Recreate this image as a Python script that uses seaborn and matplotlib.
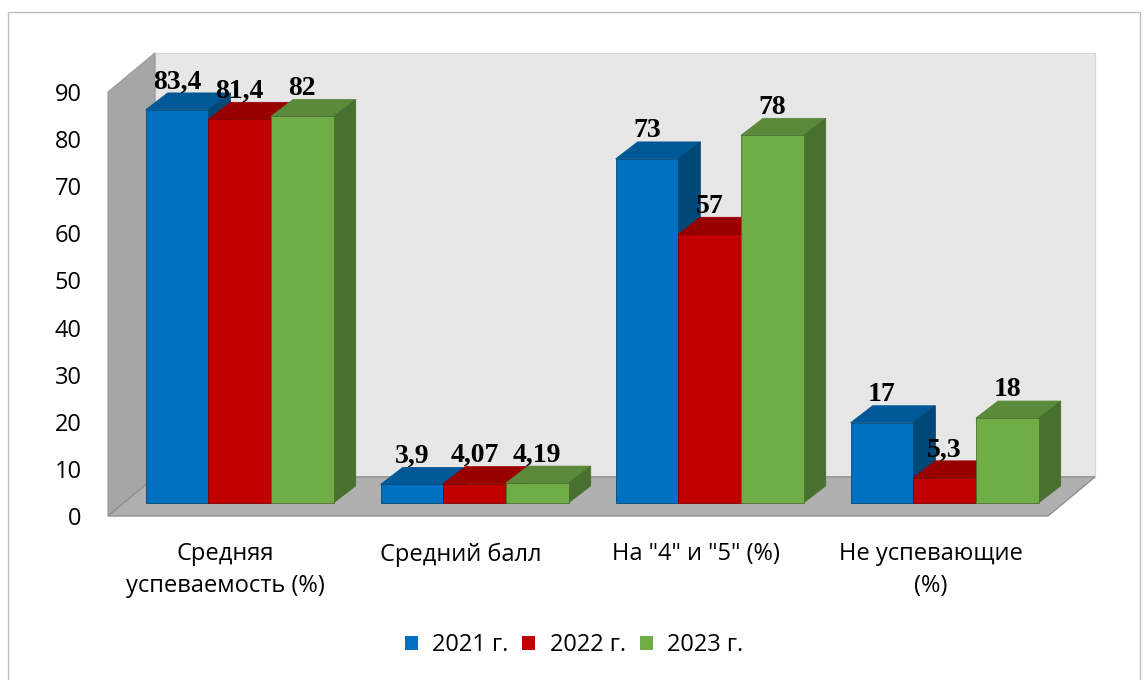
import pandas as pd
import matplotlib
matplotlib.use('Agg')
import matplotlib.pyplot as plt
import matplotlib.transforms as mtransforms
from matplotlib.patches import Polygon, Rectangle
import seaborn as sns

# Данные
categories = ['Средняя\nуспеваемость (%)', 'Средний балл', 'На "4" и "5" (%)', 'Не успевающие\n(%)']
years = ['2021 г.', '2022 г.', '2023 г.']
values_2021 = [83.4, 3.9, 73, 17]
values_2022 = [81.4, 4.07, 57, 5.3]
values_2023 = [82, 4.19, 78, 18]

front_colors = ['#0070c0', '#c00000', '#70ad47']
top_colors = ['#005896', '#990000', '#5a8a3a']
side_colors = ['#004878', '#800000', '#4a7030']

df = pd.DataFrame({
    'Категория': categories * 3,
    'Год': [y for y in years for _ in categories],
    'Значение': values_2021 + values_2022 + values_2023,
})

sns.set_style('white')
plt.rcParams['font.family'] = ['Open Sans', 'DejaVu Sans']
plt.rcParams['text.color'] = 'black'
plt.rcParams['xtick.color'] = 'black'
plt.rcParams['ytick.color'] = 'black'

fig = plt.figure(figsize=(11.48, 6.8), dpi=100)
ax = fig.add_axes([108 / 1148, 164 / 680, 940 / 1148, 424 / 680])

sns.barplot(data=df, x='Категория', y='Значение', hue='Год', palette=front_colors,
            width=0.8, saturation=1, legend=False, ax=ax)

ax.set_xlim(-0.5, 3.5)
ax.set_ylim(0, 90)

# 3D-глубина в единицах данных
wall_dx, wall_dy = 0.2, 8.3      # полная глубина пола/стенки
bar_ox, bar_oy = 0.06, 2.8       # сдвиг передней грани столбиков
bar_dx, bar_dy = 0.094, 3.6      # глубина столбика

# стены и пол
ax.add_patch(Polygon([(-0.5, 0), (-0.5, 90), (-0.5 + wall_dx, 90 + wall_dy), (-0.5 + wall_dx, wall_dy)],
                     closed=True, fc='#a6a6a6', ec='#9a9a9a', lw=0.8, clip_on=False, zorder=0.6))
ax.add_patch(Polygon([(-0.5 + wall_dx, wall_dy), (-0.5 + wall_dx, 90 + wall_dy),
                      (3.5 + wall_dx, 90 + wall_dy), (3.5 + wall_dx, wall_dy)],
                     closed=True, fc='#e7e7e7', ec='#d5d5d5', lw=0.8, clip_on=False, zorder=0.5))
ax.add_patch(Polygon([(-0.5, 0), (3.5, 0), (3.5 + wall_dx, wall_dy), (-0.5 + wall_dx, wall_dy)],
                     closed=True, fc='#b0b0b0', ec='#8f8f8f', lw=1.0, clip_on=False, zorder=0.7))

shift = mtransforms.Affine2D().translate(bar_ox, bar_oy) + ax.transData
bars = []
for hi, cont in enumerate(ax.containers):
    for bar in cont.patches:
        bars.append((bar.get_x(), hi, bar))
bars.sort(key=lambda t: t[0])

for i, (x0, hi, bar) in enumerate(bars):
    w = bar.get_width()
    h = bar.get_height()
    z = 2 + i * 0.1
    bar.set_transform(shift)
    bar.set_zorder(z + 0.05)
    bar.set_edgecolor(side_colors[hi])
    bar.set_linewidth(0.6)
    bar.set_clip_on(False)
    xl, xr = x0 + bar_ox, x0 + w + bar_ox
    yb, yt = bar_oy, h + bar_oy
    ax.add_patch(Polygon([(xl, yt), (xr, yt), (xr + bar_dx, yt + bar_dy), (xl + bar_dx, yt + bar_dy)],
                         closed=True, fc=top_colors[hi], ec=top_colors[hi], lw=0.6,
                         clip_on=False, zorder=z))
    ax.add_patch(Polygon([(xr, yb), (xr, yt), (xr + bar_dx, yt + bar_dy), (xr + bar_dx, yb + bar_dy)],
                         closed=True, fc=side_colors[hi], ec=side_colors[hi], lw=0.6,
                         clip_on=False, zorder=z))
    ax.text(xl + w / 2, yt + bar_dy - 0.3, f'{h:g}'.replace('.', ','), ha='center', va='bottom',
            fontsize=20, fontweight='bold', color='black',
            family=['Liberation Serif', 'DejaVu Serif'], zorder=10, clip_on=False)

ax.set_yticks(range(0, 91, 10))
ax.tick_params(axis='y', length=0, pad=19, labelsize=17)
ax.tick_params(axis='x', length=0, pad=19, labelsize=17)
for lbl in ax.get_xticklabels():
    lbl.set_linespacing(1.45)
ax.set_xlabel('')
ax.set_ylabel('')
sns.despine(ax=ax, left=True, bottom=True)
ax.patch.set_alpha(0)

handles = [Rectangle((0, 0), 1, 1, fc=c, ec='none') for c in front_colors]
fig.legend(handles, years, loc='center', bbox_to_anchor=(0.5, 1 - 645 / 680), ncol=3,
           frameon=False, fontsize=17, handlelength=0.55, handleheight=0.55,
           handletextpad=0.6, columnspacing=0.6)

# рамка вокруг диаграммы
fig.patches.append(Rectangle((8 / 1148, -0.01), 1132 / 1148, 1.0 - 12 / 680 + 0.01,
                             transform=fig.transFigure, fill=False, ec='#bfbfbf', lw=1))

plt.savefig('out.png', dpi=100)
